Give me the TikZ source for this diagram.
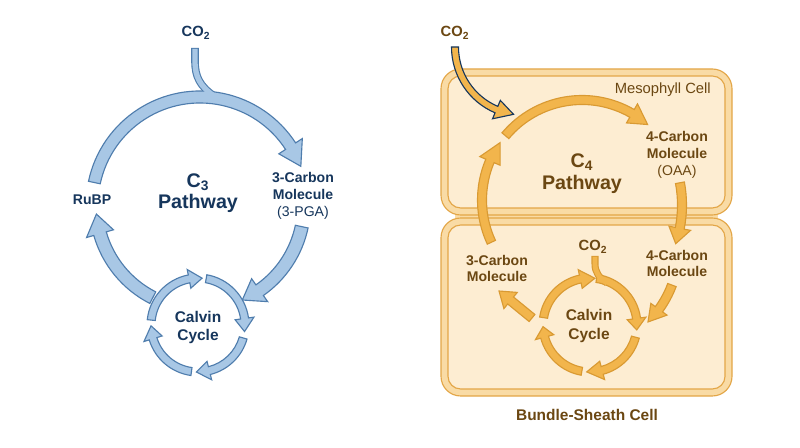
\documentclass[tikz,border=0pt]{standalone}
\usepackage{fontspec}
\setmainfont{Liberation Sans}
\usepackage{tikz}

\definecolor{navy}{HTML}{16365C}
\definecolor{bluefill}{HTML}{A8C7E5}
\definecolor{blueline}{HTML}{4F7DAD}
\definecolor{c4brown}{HTML}{6B4712}
\definecolor{orangefill}{HTML}{F2B54C}
\definecolor{orangeline}{HTML}{D99A33}
\definecolor{cellfill}{HTML}{FDEDD2}
\definecolor{wallfill}{HTML}{F9DBA5}
\definecolor{wallline}{HTML}{E3A647}

\newcommand{\ringarrow}[8][]{%
	\filldraw[#1] ([shift={(#2)}]#4:{#3+#7}) arc[start angle=#4, end angle=#5, radius={#3+#7}]
		-- ([shift={(#2)}]#5:{#3+#8}) -- ([shift={(#2)}]#6:#3) -- ([shift={(#2)}]#5:{#3-#8})
		-- ([shift={(#2)}]#5:{#3-#7}) arc[start angle=#5, end angle=#4, radius={#3-#7}] -- cycle;}

\begin{document}
\begin{tikzpicture}[x=0.025cm, y=0.025cm, line width=0.8pt,
	c3arrow/.style={fill=bluefill, draw=blueline},
	c4arrow/.style={fill=orangefill, draw=orangeline},
	co2arrow/.style={fill=orangefill, draw=navy},
	c3label/.style={text=navy, font=\bfseries\fontsize{10}{12}\selectfont, align=center},
	c4label/.style={text=c4brown, font=\bfseries\fontsize{10}{12}\selectfont, align=center},
	wall/.style={fill=wallfill, draw=wallline, rounded corners=14pt},
	cellin/.style={fill=cellfill, draw=wallline, rounded corners=9pt}]
	\fill[white] (0,0) rectangle (800,447);
	\useasboundingbox (0,0) rectangle (800,447);
	\coordinate (cA) at (200,242);
	\coordinate (cB) at (198,122);
	\coordinate (cC) at (582,247);
	\coordinate (cD) at (590,122);
	\coordinate (cE) at (523,400);
	\coordinate (cF) at (560,242);
	\coordinate (cG) at (576,198);

	\draw[blueline, line width=5.4pt] (195,399) -- (195,386) .. controls (195,370) and (200,361) .. (214,351);
	\ringarrow[c3arrow]{cA}{108}{168}{33}{21}{6}{14}
	\draw[bluefill, line width=3.8pt] (195,398) -- (195,386) .. controls (195,370) and (200,361) .. (214,351);
	\ringarrow[c3arrow]{cA}{104}{-12}{-55}{-66}{6.5}{14}
	\ringarrow[c3arrow]{cA}{104}{243}{196}{185}{6.5}{14}
	\ringarrow[c3arrow]{cB}{47}{174}{101}{85}{4}{9.5}
	\ringarrow[c3arrow]{cB}{47}{80}{8}{-8}{4}{9.5}
	\ringarrow[c3arrow]{cB}{47}{-16}{-76}{-92}{4}{9.5}
	\ringarrow[c3arrow]{cB}{47}{262}{197}{181}{4}{9.5}

	\node[c3label, font=\bfseries\fontsize{10.5}{12}\selectfont] (co2L) at (196,414) {CO\textsubscript{2}};
	\node[c3label, font=\bfseries\fontsize{14}{15}\selectfont] (pathC3) at (198,253.5) {C\textsubscript{3}\\Pathway};
	\node[c3label] (rubp) at (92,247) {RuBP};
	\node[c3label] (pgaL) at (303,251) {3-Carbon\\Molecule\\{\mdseries (3-PGA)}};
	\node[c3label, font=\bfseries\fontsize{11}{13.5}\selectfont] (calvinL) at (198,119.5) {Calvin\\Cycle};

	\fill[wallfill] (455,228.5) rectangle (718,232.5);
	\draw[wall] (441,378) rectangle (732,232);
	\draw[cellin] (448,371) rectangle (725,239);
	\draw[wall] (441,229) rectangle (732,51);
	\draw[cellin] (448,222) rectangle (725,58);

	\ringarrow[co2arrow]{cE}{68}{180}{247}{262}{3.5}{10}
	\ringarrow[c4arrow]{cC}{100}{205}{157}{145}{4.5}{11}
	\ringarrow[c4arrow]{cC}{100}{140}{60}{49}{4.5}{11}
	\ringarrow[c4arrow]{cF}{122}{10.5}{-11}{-18.5}{4.5}{11}
	\ringarrow[c4arrow]{cG}{102.5}{-20.6}{-36}{-45.4}{4.5}{10}
	\filldraw[c4arrow] (534.9,132.5) -- (513.5,150.0) -- (517.3,154.6) -- (499,156) -- (503.9,138.4) -- (507.7,143.0) -- (529.1,125.5) -- cycle;
	\draw[orangeline, line width=5pt] (595,191) -- (595,183) .. controls (595,175) and (599,169) .. (607,164);
	\ringarrow[c4arrow]{cD}{47}{171}{102}{84}{4}{9.5}
	\ringarrow[c4arrow]{cD}{47}{82}{8}{-6}{4}{9.5}
	\ringarrow[c4arrow]{cD}{47}{-15}{-75}{-94}{4}{9.5}
	\ringarrow[c4arrow]{cD}{47}{260}{195}{182}{4}{9.5}
	\draw[orangefill, line width=3.4pt] (595,190) -- (595,183) .. controls (595,175) and (599,169) .. (607,164);

	\node[c4label, font=\bfseries\fontsize{10.5}{12}\selectfont] (co2R) at (455,414) {CO\textsubscript{2}};
	\node[c4label, font=\bfseries\fontsize{14}{16}\selectfont] (pathC4) at (582,273.5) {C\textsubscript{4}\\Pathway};
	\node[c4label] (oaa) at (677,292.5) {4-Carbon\\Molecule\\{\mdseries (OAA)}};
	\node[c4label, font=\fontsize{10.5}{12}\selectfont, anchor=east] (meso) at (716,357) {Mesophyll Cell};
	\node[c4label] (carbon3) at (497,178.5) {3-Carbon\\Molecule};
	\node[c4label, font=\bfseries\fontsize{10.5}{12}\selectfont] (co2B) at (593,200) {CO\textsubscript{2}};
	\node[c4label] (carbon4) at (677,183.5) {4-Carbon\\Molecule};
	\node[c4label, font=\bfseries\fontsize{11}{13.5}\selectfont] (calvinR) at (589,121) {Calvin\\Cycle};
	\node[c4label, font=\bfseries\fontsize{11}{13}\selectfont] (bundle) at (587,32) {Bundle-Sheath Cell};
\end{tikzpicture}
\end{document}
